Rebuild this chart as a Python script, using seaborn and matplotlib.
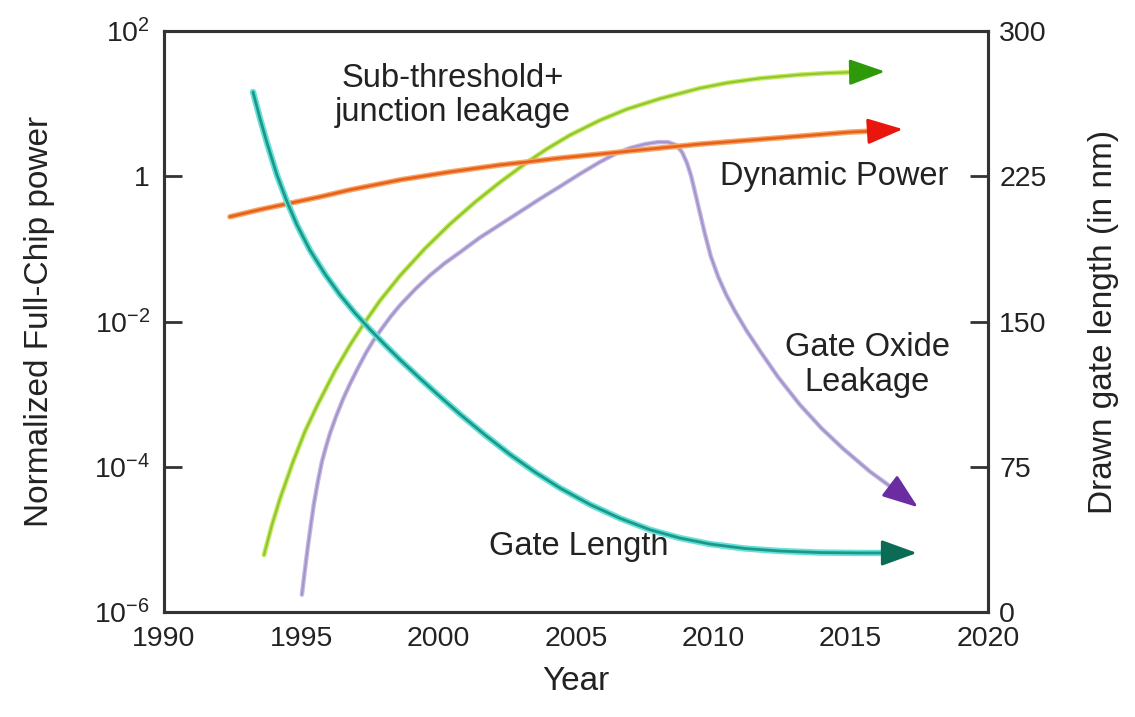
import numpy as np
import pandas as pd
import matplotlib
matplotlib.use("Agg")
import matplotlib.pyplot as plt
import seaborn as sns

# ---- data -------------------------------------------------------------
# Dynamic power (normalized, left log axis)
dyn_year = [1992.40, 1993.49, 1994.48, 1995.68, 1996.77, 1998.59, 2000.41,
            2002.23, 2003.21, 2004.42, 2005.87, 2007.69, 2009.51, 2011.33,
            2013.15, 2014.97, 2015.70, 2016.90]
dyn_power = [0.277, 0.347, 0.417, 0.52, 0.649, 0.891, 1.146,
             1.43, 1.57, 1.78, 2.02, 2.37, 2.77, 3.14,
             3.56, 4.05, 4.17, 4.45]

# Sub-threshold + junction leakage
sub_year = [1993.64, 1993.93, 1994.22, 1994.70, 1995.13, 1995.57, 1996.22,
            1996.77, 1997.24, 1997.86, 1998.59, 1999.50, 2000.41, 2001.32,
            2002.23, 2003.21, 2003.94, 2004.78, 2005.87, 2006.85, 2008.06,
            2009.51, 2010.50, 2011.70, 2013.15, 2014.14, 2015.08, 2016.25]
sub_power = [6.1e-6, 1.58e-5, 3.6e-5, 1.18e-4, 3.05e-4, 6.9e-4, 2.08e-3,
             4.73e-3, 8.9e-3, 1.93e-2, 4.26e-2, 0.101, 0.219, 0.439,
             0.825, 1.55, 2.38, 3.68, 5.9, 8.38, 11.7,
             16.3, 19.3, 22.3, 25.0, 26.3, 27.1, 27.6]

# Gate oxide leakage
ox_year = [1995.02, 1995.13, 1995.24, 1995.35, 1995.46, 1995.61, 1995.75,
           1995.90, 1996.04, 1996.26, 1996.52, 1996.77, 1997.06, 1997.35,
           1997.61, 1997.94, 1998.26, 1998.59, 1999.14, 1999.68, 2000.23,
           2000.78, 2001.50, 2002.23, 2002.96, 2003.69, 2004.42, 2005.14,
           2005.87, 2006.42, 2006.96, 2007.51, 2007.98, 2008.35, 2008.64,
           2008.86, 2009.04, 2009.19, 2009.33, 2009.51, 2009.69, 2009.91,
           2010.17, 2010.46, 2010.79, 2011.22, 2011.70, 2012.35, 2013.15,
           2013.95, 2014.72, 2015.70, 2016.68, 2017.45]
ox_power = [1.73e-6, 3.8e-6, 8.1e-6, 1.62e-5, 3.14e-5, 6.5e-5, 1.18e-4,
            1.90e-4, 2.86e-4, 4.89e-4, 8.6e-4, 1.38e-3, 2.29e-3, 3.68e-3,
            5.37e-3, 8.1e-3, 1.18e-2, 1.67e-2, 2.77e-2, 4.31e-2, 6.39e-2,
            9.0e-2, 0.143, 0.215, 0.324, 0.489, 0.724, 1.075,
            1.57, 2.02, 2.44, 2.77, 2.95, 2.95, 2.69,
            2.15, 1.52, 1.01, 0.609, 0.314, 0.162, 0.0785,
            0.0418, 0.0237, 0.0138, 7.36e-3, 3.92e-3, 1.73e-3, 7.14e-4,
            3.35e-4, 1.78e-4, 8.6e-5, 4.6e-5, 2.77e-5]

# Drawn gate length (nm, right axis)
gl_year = [1993.24, 1993.49, 1993.75, 1994.11, 1994.48, 1994.84, 1995.31,
           1995.86, 1996.41, 1996.95, 1997.50, 1998.05, 1998.59, 1999.32,
           2000.05, 2000.78, 2001.69, 2002.60, 2003.51, 2004.42, 2005.51,
           2006.60, 2007.69, 2008.78, 2009.88, 2011.15, 2012.43, 2013.88,
           2015.34, 2016.25, 2017.41]
gl_nm = [268.5, 255.1, 242.2, 225.7, 211.8, 199.9, 186.9,
         174.5, 163.7, 154.4, 145.9, 137.9, 130.3, 120.6,
         111.2, 102.1, 91.4, 81.3, 72.2, 64.0, 55.5,
         48.4, 42.5, 38.2, 35.1, 32.8, 31.5, 30.7,
         30.5, 30.5, 30.5]

left_ticks = [1e-6, 1e-4, 1e-2, 1, 1e2]
left_ticklabels = [r"$10^{-6}$", r"$10^{-4}$", r"$10^{-2}$", "1", r"$10^{2}$"]
right_ticks = [0, 75, 150, 225, 300]
year_ticks = [1990, 1995, 2000, 2005, 2010, 2015, 2020]

# ---- style ------------------------------------------------------------
sns.set_style("white")
plt.rcParams["font.family"] = ["Liberation Sans", "DejaVu Sans"]
plt.rcParams["mathtext.fontset"] = "custom"
plt.rcParams["mathtext.rm"] = "Liberation Sans"
plt.rcParams["mathtext.it"] = "Liberation Sans"
plt.rcParams["mathtext.default"] = "regular"

TXT = "#222222"
SPINE = "#333333"

fig = plt.figure(figsize=(11.35, 7.17), dpi=100)
ax = fig.add_axes([0.1445, 0.1464, 0.8705 - 0.1445, 0.9568 - 0.1464])
ax2 = ax.twinx()


def curve(axis, xs, ys, halo, core, head, lw_halo, lw_core):
    """Line with a soft halo, ending in a filled arrowhead."""
    df = pd.DataFrame({"x": xs[:-1], "y": ys[:-1]})
    sns.lineplot(data=df, x="x", y="y", ax=axis, color=halo, lw=lw_halo,
                 sort=False, estimator=None, solid_capstyle="round",
                 solid_joinstyle="round")
    sns.lineplot(data=df, x="x", y="y", ax=axis, color=core, lw=lw_core,
                 sort=False, estimator=None, solid_capstyle="round",
                 solid_joinstyle="round")
    axis.annotate("", xy=(xs[-1], ys[-1]), xytext=(xs[-2], ys[-2]),
                  arrowprops=dict(arrowstyle="-|>,head_length=2.2,head_width=0.8",
                                  color=head, lw=2, shrinkA=0, shrinkB=0,
                                  mutation_scale=10))


curve(ax, ox_year, ox_power, "#c4b8e2", "#a293cb", "#6a2ca0", 3.2, 1.4)
curve(ax, sub_year, sub_power, "#c6ea52", "#8cc43c", "#2e9a0a", 3.4, 1.5)
curve(ax, dyn_year, dyn_power, "#f6a868", "#e8621c", "#e8160c", 4.0, 2.0)
curve(ax2, gl_year, gl_nm, "#66e0da", "#1c9888", "#0b6b55", 4.6, 2.0)

# ---- axes -------------------------------------------------------------
ax.set_yscale("log")
ax.set_xlim(1990, 2020)
ax.set_ylim(1e-6, 1e2)
ax2.set_ylim(0, 300)

ax.set_xticks(year_ticks)
ax.set_xticklabels([str(y) for y in year_ticks])
ax.set_yticks(left_ticks)
ax.set_yticklabels(left_ticklabels)
ax.yaxis.set_minor_locator(matplotlib.ticker.NullLocator())
ax2.set_yticks(right_ticks)
ax2.set_yticklabels([str(v) for v in right_ticks])

ax.tick_params(axis="x", direction="in", length=9, width=2, color=SPINE,
               labelsize=20.5, labelcolor=TXT, pad=10, top=False)
ax.tick_params(axis="y", direction="in", length=13, width=2, color=SPINE,
               labelsize=20.5, labelcolor=TXT, pad=10, right=False)
ax2.tick_params(axis="y", direction="in", length=13, width=2, color=SPINE,
                labelsize=20.5, labelcolor=TXT, pad=8)

for a in (ax, ax2):
    for s in a.spines.values():
        s.set_visible(True)
        s.set_color(SPINE)
        s.set_linewidth(2.2)
ax2.set_xlabel("")
ax.set_xlabel("Year", fontsize=24, color=TXT, labelpad=10)
ax.set_ylabel("Normalized Full-Chip power", fontsize=24, color=TXT, labelpad=28)
ax2.set_ylabel("Drawn gate length (in nm)", fontsize=24, color=TXT, labelpad=30)

# ---- curve labels -----------------------------------------------------
ax.text(2000.5, 13, "Sub-threshold+\njunction leakage", fontsize=23.5, color=TXT,
        ha="center", va="center", linespacing=1.15)
ax.text(2014.4, 1.0, "Dynamic Power", fontsize=23.5, color=TXT,
        ha="center", va="center")
ax.text(2015.6, 10 ** -2.6, "Gate Oxide\nLeakage", fontsize=23.5, color=TXT,
        ha="center", va="center", linespacing=1.15)
ax.text(2005.1, 10 ** -5.1, "Gate Length", fontsize=23.5, color=TXT,
        ha="center", va="center")

fig.savefig("out.png", dpi=100, facecolor="white")
